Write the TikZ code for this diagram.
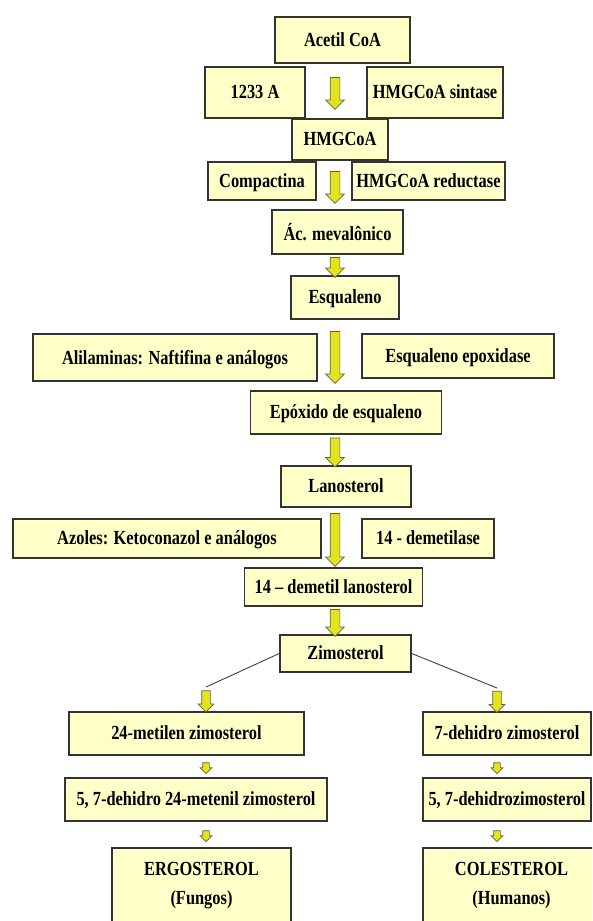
\documentclass[tikz,border=0pt]{standalone}
\usepackage{fontspec}
\setmainfont{Liberation Serif}
\newfontfamily\diagfont{Liberation Serif}[FakeStretch=0.82]
\usetikzlibrary{shapes.arrows}
\definecolor{boxyellow}{RGB}{255,255,200}
\definecolor{arrowyellow}{RGB}{226,228,30}
\definecolor{arrowedge}{RGB}{100,100,60}

\begin{document}
\begin{tikzpicture}[x=1pt,y=-1pt,
  every node/.style={font=\diagfont\bfseries\fontsize{20}{29}\selectfont},
  box/.style={draw=black!80,line width=1.5pt,fill=boxyellow,inner sep=0pt,align=center,text depth=1pt},
  bigarr/.style={single arrow,draw=arrowedge,fill=arrowyellow,line width=0.7pt,
    shape border rotate=270,inner sep=4.5pt,minimum width=18pt,single arrow head extend=4.5pt},
  midarr/.style={bigarr,inner sep=4pt,minimum width=15pt,single arrow head extend=3.5pt},
  tinyarr/.style={bigarr,inner sep=3pt,minimum width=11pt,single arrow head extend=2.5pt},
  branch/.style={draw=black!75,line width=0.9pt}]
\useasboundingbox (0,0) rectangle (592,921);
\clip (0,0) rectangle (592,921);
\coordinate (axis) at (335,0);
% main chain
\node[box,minimum width=135pt,minimum height=46pt] (acetil) at (342.5,40) {Acetil CoA};
\node[box,minimum width=100pt,minimum height=51pt] (ini1) at (255,92.5) {1233 A};
\node[box,minimum width=136pt,minimum height=51pt] (enz1) at (435,92.5) {HMGCoA sintase};
\node[box,minimum width=96pt,minimum height=41pt] (hmgcoa) at (340,139.5) {HMGCoA};
\node[box,minimum width=108pt,minimum height=38pt] (ini2) at (262,181) {Compactina};
\node[box,minimum width=153pt,minimum height=38pt] (enz2) at (428.5,181) {HMGCoA reductase};
\node[box,minimum width=131pt,minimum height=44pt] (mevalon) at (337.5,232) {Ác. mevalônico};
\node[box,minimum width=108pt,minimum height=43pt] (esqual) at (345,297.5) {Esqualeno};
\node[box,minimum width=284pt,minimum height=47pt] (ini3) at (175,357.5) {Alilaminas: Naftifina e análogos};
\node[box,minimum width=192pt,minimum height=44pt] (enz3) at (458,356) {Esqualeno epoxidase};
\node[box,minimum width=191pt,minimum height=43pt] (epox) at (346,412.5) {Epóxido de esqualeno};
\node[box,minimum width=130pt,minimum height=41pt] (lanost) at (346,486.5) {Lanosterol};
\node[box,minimum width=308pt,minimum height=39pt] (ini4) at (167,538.5) {Azoles: Ketoconazol e análogos};
\node[box,minimum width=132pt,minimum height=39pt] (enz4) at (428,538.5) {14 - demetilase};
\node[box,minimum width=178pt,minimum height=38pt] (demetil) at (333.5,587) {14 – demetil lanosterol};
\node[box,minimum width=131pt,minimum height=37pt] (zim) at (345.5,653.5) {Zimosterol};
% fungos
\node[box,minimum width=235pt,minimum height=43pt] (fung1) at (186.5,733.5) {24-metilen zimosterol};
\node[box,minimum width=262pt,minimum height=43pt] (fung2) at (196,799.5) {5, 7-dehidro 24-metenil zimosterol};
\node[box,minimum width=179pt,minimum height=82pt,text depth=11pt] (ergo) at (201.5,889) {ERGOSTEROL\\(Fungos)};
% humanos
\node[box,minimum width=168pt,minimum height=43pt] (hum1) at (507,733.5) {7-dehidro zimosterol};
\node[box,minimum width=168pt,minimum height=43pt] (hum2) at (507,799.5) {5, 7-dehidrozimosterol};
\node[box,minimum width=177pt,minimum height=82pt,text depth=11pt] (cole) at (511.5,889) {COLESTEROL\\(Humanos)};
% arrows
\path (acetil.south -| axis) -- node[bigarr,minimum height=32pt] {} (hmgcoa.north -| axis);
\path (hmgcoa.south -| axis) -- node[bigarr,minimum height=32pt] {} (mevalon.north -| axis);
\path (mevalon.south -| axis) -- node[bigarr,minimum height=20pt] {} (esqual.north -| axis);
\path (esqual.south -| axis) -- node[bigarr,minimum height=52pt] {} (epox.north -| axis);
\path (epox.south -| axis) -- node[bigarr,minimum height=29pt] {} (lanost.north -| axis);
\path (lanost.south -| axis) -- node[bigarr,minimum height=53pt] {} (demetil.north -| axis);
\path (demetil.south -| axis) -- node[bigarr,minimum height=27pt] {} (zim.north -| axis);
% branches
\coordinate (fk) at (206,687);
\coordinate (hk) at (497,688);
\draw[branch] (zim.west) -- (fk);
\draw[branch] (zim.east) -- (hk);
\path (fk) -- node[midarr,minimum height=21pt] {} (fk |- fung1.north);
\path (hk) -- node[midarr,minimum height=21pt] {} (hk |- hum1.north);
\path (fung1.south -| fk) -- node[tinyarr,minimum height=11pt] {} (fung2.north -| fk);
\path (fung2.south -| fk) -- node[tinyarr,minimum height=11pt] {} (ergo.north -| fk);
\path (hum1.south -| hk) -- node[tinyarr,minimum height=11pt] {} (hum2.north -| hk);
\path (hum2.south -| hk) -- node[tinyarr,minimum height=11pt] {} (cole.north -| hk);
\end{tikzpicture}
\end{document}
